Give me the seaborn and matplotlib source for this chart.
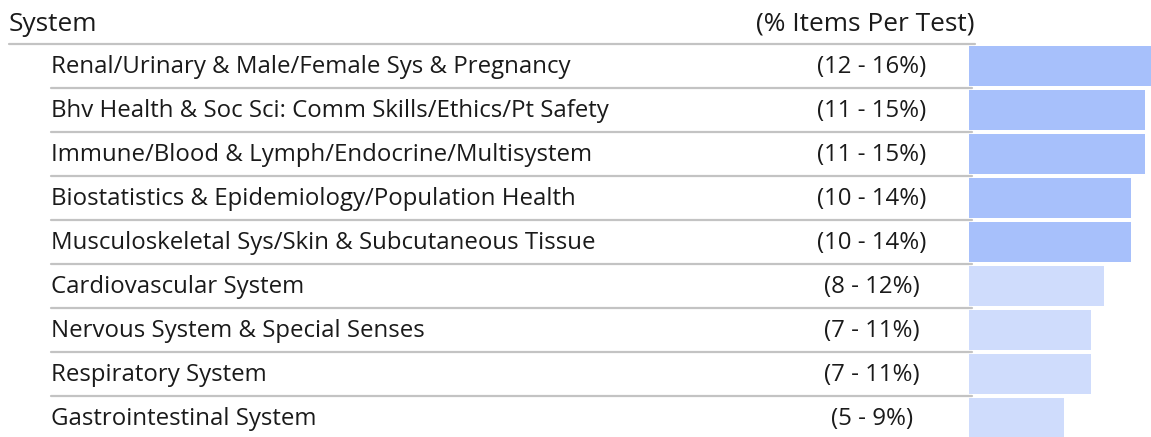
import matplotlib
matplotlib.use("Agg")
import matplotlib.pyplot as plt
import matplotlib.transforms as mtransforms
from matplotlib.lines import Line2D
import pandas as pd
import seaborn as sns

# data
systems = [
    "Renal/Urinary & Male/Female Sys & Pregnancy",
    "Bhv Health & Soc Sci: Comm Skills/Ethics/Pt Safety",
    "Immune/Blood & Lymph/Endocrine/Multisystem",
    "Biostatistics & Epidemiology/Population Health",
    "Musculoskeletal Sys/Skin & Subcutaneous Tissue",
    "Cardiovascular System",
    "Nervous System & Special Senses",
    "Respiratory System",
    "Gastrointestinal System",
]
low_pct = [12, 11, 11, 10, 10, 8, 7, 7, 5]
high_pct = [16, 15, 15, 14, 14, 12, 11, 11, 9]
group = ["high", "high", "high", "high", "high", "low", "low", "low", "low"]

header_left = "System"
header_right = "(% Items Per Test)"

colors = {"high": "#a7c0fb", "low": "#cfdcfc"}
text_color = "#1a1a1a"
line_color = "#c3c3c3"

sns.set_theme(style="white")
plt.rcParams["font.family"] = ["Open Sans", "DejaVu Sans"]

W, H = 1151, 437
fig = plt.figure(figsize=(W / 100, H / 100), dpi=100)

df = pd.DataFrame({"system": systems, "high": high_pct, "group": group})

# bar column, rows are 44px tall starting at y=44
ax = fig.add_axes([969 / W, (H - 440) / H, 1 - 969 / W, 396 / H])
sns.barplot(data=df, y="system", x="high", hue="group", palette=colors,
            saturation=1, dodge=False, legend=False, width=0.93, orient="h",
            linewidth=0, ax=ax)
ax.set_xlim(1.9, 1.9 + 182 / 13.4)
ax.set_ylim(len(systems) - 0.5, -0.5)
ax.axis("off")

tr = mtransforms.blended_transform_factory(fig.transFigure, ax.transData)
fs = 17.3
fs_head = 18.9

for i, (name, lo, hi) in enumerate(zip(systems, low_pct, high_pct)):
    ax.text(51 / W, i + 0.02, name, transform=tr, ha="left", va="center",
            fontsize=fs, color=text_color, clip_on=False)
    ax.text(872 / W, i + 0.02, f"({lo} - {hi}%)", transform=tr, ha="center",
            va="center", fontsize=fs, color=text_color, clip_on=False)
    if i > 0:
        fig.add_artist(Line2D([51 / W, 972 / W], [i - 0.5, i - 0.5],
                              transform=tr, color=line_color, lw=1.6))

# header row
ax.text(9 / W, -0.95, header_left, transform=tr, ha="left", va="center",
        fontsize=fs_head, color=text_color, clip_on=False)
ax.text(975 / W, -0.95, header_right, transform=tr, ha="right", va="center",
        fontsize=fs_head, color=text_color, clip_on=False)
fig.add_artist(Line2D([9 / W, 975 / W], [-0.5, -0.5], transform=tr,
                      color=line_color, lw=1.6))

fig.savefig("out.png", dpi=100)
